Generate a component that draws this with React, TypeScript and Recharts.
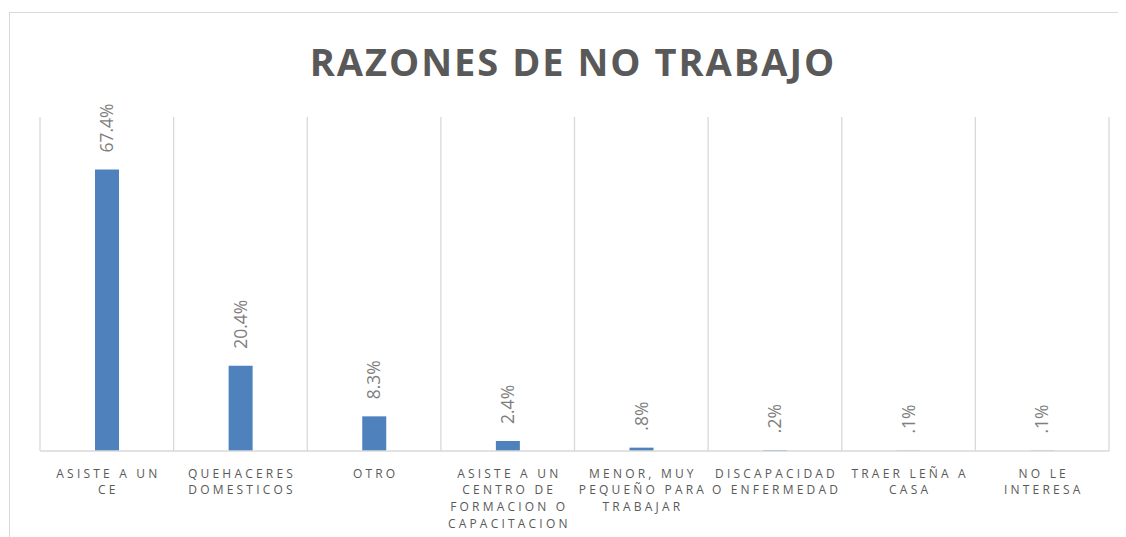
import React from 'react';
import { BarChart, Bar, XAxis, YAxis, CartesianGrid, LabelList } from 'recharts';

const categories = [
  'ASISTE A UN CE',
  'QUEHACERES DOMESTICOS',
  'OTRO',
  'ASISTE A UN CENTRO DE FORMACION O CAPACITACION',
  'MENOR, MUY PEQUEÑO PARA TRABAJAR',
  'DISCAPACIDAD O ENFERMEDAD',
  'TRAER LEÑA A CASA',
  'NO LE INTERESA',
];

const tickLines: string[][] = [
  ['ASISTE A UN', 'CE'],
  ['QUEHACERES', 'DOMESTICOS'],
  ['OTRO'],
  ['ASISTE A UN', 'CENTRO DE', 'FORMACION O', 'CAPACITACION'],
  ['MENOR, MUY', 'PEQUEÑO PARA', 'TRABAJAR'],
  ['DISCAPACIDAD', 'O ENFERMEDAD'],
  ['TRAER LEÑA A', 'CASA'],
  ['NO LE', 'INTERESA'],
];

const values = [67.4, 20.4, 8.3, 2.4, 0.8, 0.2, 0.1, 0.1];

const yDomain: [number, number] = [0, 80];

const data = categories.map((c, i) => ({ name: c, value: values[i], idx: i }));

const fmt = (v: number) => (v < 1 ? String(v).replace(/^0/, '') : v.toFixed(1)) + '%';

const FONT = '"Open Sans", "Noto Sans", sans-serif';

const Tick = (props: any) => {
  const { x, y, index } = props;
  const lines = tickLines[index] || [];
  return (
    <text
      x={x}
      y={y}
      textAnchor="middle"
      fill="#595959"
      fontSize={12}
      fontFamily={FONT}
      letterSpacing={3.2}
    >
      {lines.map((l, i) => (
        <tspan key={i} x={x + 1.6} y={y + 18.5 + i * 16.8}>
          {l}
        </tspan>
      ))}
    </text>
  );
};

const BarLabel = (props: any) => {
  const { x, y, width, value } = props;
  const cx = x + width / 2;
  const bx = cx + 6;
  const by = y - 17;
  return (
    <text
      transform={`translate(${bx},${by}) rotate(-90)`}
      textAnchor="start"
      fill="#7f7f7f"
      fontSize={17.5}
      fontFamily={FONT}
    >
      {fmt(value)}
    </text>
  );
};

export default function App() {
  return (
    <div style={{ position: 'relative', width: 1118, height: 529, background: '#fff' }}>
      <BarChart
        width={1118}
        height={529}
        data={data}
        margin={{ top: 109, right: 17, bottom: 0, left: 32 }}
        barCategoryGap={0}
      >
        <CartesianGrid
          horizontal={false}
          stroke="#d9d9d9"
          strokeWidth={1.3}
          verticalCoordinatesGenerator={({ offset }: any) => {
            const n = categories.length;
            const step = offset.width / n;
            return Array.from({ length: n + 1 }, (_, i) => offset.left + i * step);
          }}
        />
        <XAxis
          dataKey="name"
          interval={0}
          height={86}
          tickLine={false}
          axisLine={{ stroke: '#d9d9d9', strokeWidth: 1.3 }}
          tick={<Tick />}
        />
        <YAxis hide domain={yDomain} />
        <Bar dataKey="value" fill="#4f81bd" barSize={24} isAnimationActive={false}>
          <LabelList dataKey="value" content={<BarLabel />} />
        </Bar>
      </BarChart>
      <svg
        width={1118}
        height={529}
        style={{ position: 'absolute', left: 0, top: 0, pointerEvents: 'none' }}
      >
        <line x1={1} y1={4.5} x2={1118} y2={4.5} stroke="#d9d9d9" strokeWidth={1} />
        <line x1={1.5} y1={4} x2={1.5} y2={529} stroke="#d9d9d9" strokeWidth={1} />
        <text
          x={565}
          y={68}
          textAnchor="middle"
          fill="#595959"
          fontSize={38}
          fontWeight={700}
          fontFamily={FONT}
          letterSpacing={2}
        >
          RAZONES DE NO TRABAJO
        </text>
      </svg>
    </div>
  );
}
